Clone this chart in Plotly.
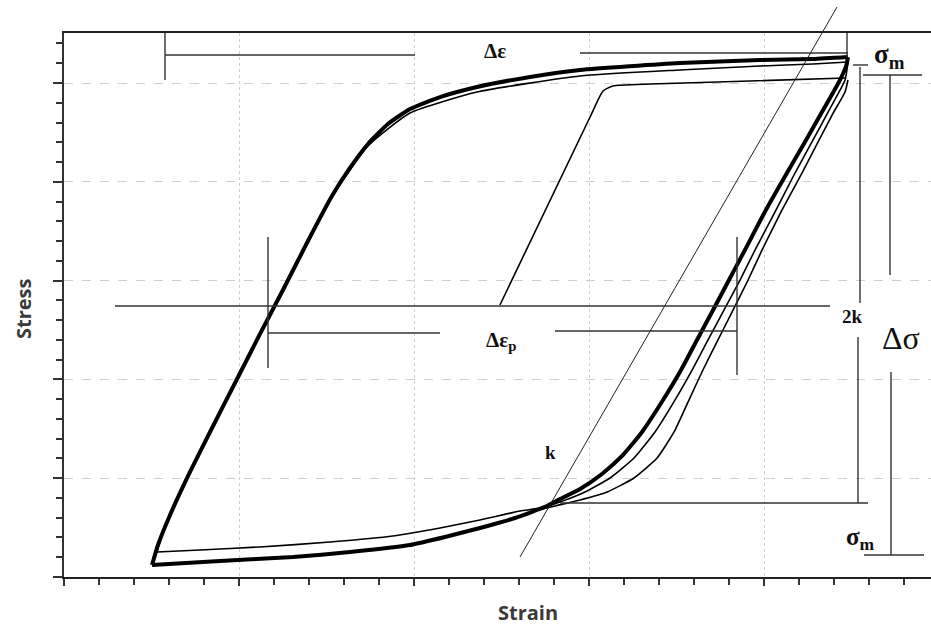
import plotly.graph_objects as go

# ---- data (strain, stress in arbitrary chart units) ----
# stabilised loop (thick)
load_x = [0.503, 0.537, 0.606, 0.720, 0.846, 0.983, 1.120, 1.257, 1.394, 1.531, 1.634, 1.737, 1.851, 1.977, 2.149, 2.360, 2.663, 2.949, 3.520, 3.977, 4.280, 4.480]
load_y = [0.121, 0.324, 0.628, 1.063, 1.508, 1.984, 2.460, 2.925, 3.401, 3.856, 4.140, 4.383, 4.585, 4.737, 4.858, 4.960, 5.061, 5.132, 5.202, 5.233, 5.243, 5.263]
unload_x = [4.480, 4.469, 4.434, 4.331, 4.234, 4.131, 4.011, 3.891, 3.800, 3.709, 3.617, 3.526, 3.423, 3.303, 3.189, 3.074, 2.949, 2.834, 2.760, 2.577, 2.377, 2.177, 1.977, 1.634, 1.309, 0.891, 0.503]
unload_y = [5.263, 5.172, 5.030, 4.706, 4.403, 4.089, 3.715, 3.310, 3.006, 2.702, 2.399, 2.095, 1.791, 1.468, 1.225, 1.043, 0.891, 0.789, 0.719, 0.597, 0.496, 0.405, 0.324, 0.253, 0.202, 0.162, 0.121]

# earlier cycle (thin)
cyc_unload_x = [4.480, 4.463, 4.366, 4.274, 4.177, 4.069, 3.949, 3.863, 3.771, 3.680, 3.589, 3.491, 3.377, 3.257, 3.120, 2.977, 2.834, 2.720, 2.606, 2.377, 2.149, 1.880, 1.520, 1.120, 0.777, 0.531]
cyc_unload_y = [5.213, 5.030, 4.706, 4.403, 4.089, 3.715, 3.310, 3.006, 2.702, 2.399, 2.095, 1.791, 1.468, 1.204, 1.002, 0.860, 0.759, 0.698, 0.668, 0.577, 0.496, 0.415, 0.354, 0.304, 0.273, 0.253]
cyc_load_x = [0.531, 0.560, 0.617, 0.720, 0.983, 1.257, 1.531, 1.737, 1.977, 2.360, 2.949, 3.520, 3.977, 4.280, 4.480]
cyc_load_y = [0.253, 0.425, 0.658, 1.053, 1.974, 2.915, 3.846, 4.362, 4.696, 4.909, 5.071, 5.132, 5.172, 5.192, 5.213]

# first loading and first unloading (thin)
first_load_x = [2.491, 3.006, 3.080, 3.137, 3.349, 3.920, 4.469]
first_load_y = [2.753, 4.656, 4.919, 4.970, 4.990, 5.020, 5.051]
first_unload_x = [4.480, 4.463, 4.389, 4.309, 4.217, 4.103, 3.989, 3.909, 3.823, 3.737, 3.651, 3.571, 3.486, 3.389, 3.257, 3.103, 2.949, 2.806, 2.663]
first_unload_y = [5.030, 4.909, 4.676, 4.403, 4.089, 3.715, 3.310, 3.006, 2.702, 2.399, 2.095, 1.791, 1.468, 1.204, 1.002, 0.860, 0.779, 0.719, 0.658]

# ---- layout constants ----
W, H = 931, 630
ML, MR, MT, MB = 64, 0, 33, 53
PW, PH = W - ML - MR, H - MT - MB


def P(px, py):
    """pixel position -> paper coordinates (for guide lines / labels)"""
    return (px - ML) / PW, (H - MB - py) / PH


fig = go.Figure()


def branch(xs, ys, width):
    fig.add_trace(go.Scatter(x=xs, y=ys, mode="lines",
                             line=dict(color="#000", width=width, shape="spline", smoothing=0.5),
                             hoverinfo="skip", showlegend=False))


branch(load_x, load_y, 4)
branch(unload_x, unload_y, 4)
branch(cyc_unload_x, cyc_unload_y, 1.6)
branch(cyc_load_x, cyc_load_y, 1.6)
branch(first_load_x, first_load_y, 1.6)
branch(first_unload_x, first_unload_y, 1.6)

shapes = []


def seg(p1, p2, color="#333", width=1.4):
    x0, y0 = P(*p1)
    x1, y1 = P(*p2)
    shapes.append(dict(type="line", xref="paper", yref="paper", x0=x0, y0=y0, x1=x1, y1=y1,
                       line=dict(color=color, width=width)))


# delta epsilon (top)
seg((165, 33), (165, 80))
seg((165, 55), (415, 55))
seg((580, 53), (848, 53))
seg((847, 33), (847, 57))
# sigma_m top
seg((853, 65), (868, 65))
seg((863, 75), (922, 75))
# 2k vertical
seg((860, 67), (860, 303))
seg((858, 337), (858, 503))
seg((560, 503), (868, 503))
# delta sigma vertical
seg((890, 75), (890, 275))
seg((891, 372), (891, 555))
seg((864, 555), (924, 555))
# 2k horizontal
seg((115, 306), (830, 306))
# delta epsilon_p
seg((268, 237), (268, 368))
seg((268, 333), (440, 333))
seg((555, 331), (737, 331))
seg((737, 237), (737, 375))
# k line
seg((520, 557), (837, 7), color="#222", width=1)

annotations = []


def label(text, px, py, size, family="Liberation Serif", color="#111", bold=True, angle=0):
    x, y = P(px, py)
    annotations.append(dict(xref="paper", yref="paper", x=x, y=y, text=("<b>%s</b>" % text) if bold else text,
                            showarrow=False, xanchor="center", yanchor="middle", textangle=angle,
                            font=dict(family=family, size=size, color=color)))


label("Δε", 495, 51, 21)
label("σ<sub>m</sub>", 889, 56, 27)
label("2k", 852, 316, 19)
label("Δσ", 901, 338, 32, bold=False)
label("σ<sub>m</sub>", 860, 538, 25)
label("Δε<sub>p</sub>", 501, 341, 21)
label("k", 550, 452, 19)
label("Strain", 528, 612, 20, family="Open Sans", color="#3a3a3a")
label("Stress", 23, 309, 20, family="Open Sans", color="#3a3a3a", angle=-90)

fig.update_layout(
    width=W, height=H, margin=dict(l=ML, r=MR, t=MT, b=MB),
    paper_bgcolor="white", plot_bgcolor="white",
    shapes=shapes, annotations=annotations,
    xaxis=dict(range=[0, PW / 175], showticklabels=False, dtick=1, tick0=0,
               ticks="outside", ticklen=7, tickcolor="#333", tickwidth=1.5,
               minor=dict(dtick=0.2, ticks="outside", ticklen=6, tickcolor="#333", showgrid=False),
               showgrid=True, gridcolor="#cfcfcf", griddash="dot", gridwidth=1,
               showline=True, linecolor="#222", linewidth=2, mirror=True, zeroline=False, fixedrange=True),
    yaxis=dict(range=[0, PH / 98.8], showticklabels=False, dtick=1, tick0=0,
               ticks="outside", ticklen=9, tickcolor="#333", tickwidth=1.5,
               minor=dict(dtick=0.2, ticks="outside", ticklen=6, tickcolor="#333", showgrid=False),
               showgrid=True, gridcolor="#cfcfcf", griddash="dash", gridwidth=1,
               showline=True, linecolor="#333", linewidth=1.5, mirror=False, zeroline=False, fixedrange=True),
)

fig.write_html("out.html")
